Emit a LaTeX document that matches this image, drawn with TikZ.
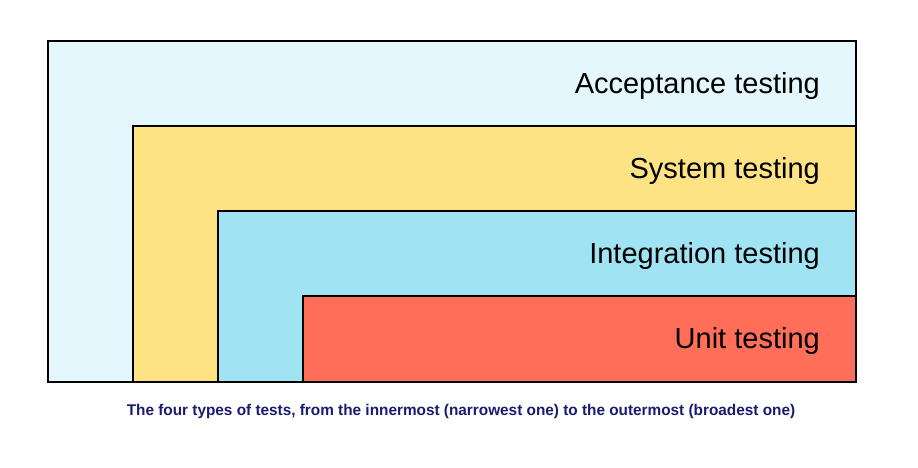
\documentclass[tikz,border=0pt]{standalone}
\usepackage{fontspec}
\setmainfont{Liberation Sans}
\definecolor{acceptfill}{HTML}{E3F7FC}
\definecolor{systemfill}{HTML}{FDE384}
\definecolor{integfill}{HTML}{A0E4F4}
\definecolor{unitfill}{HTML}{FF6E59}
\definecolor{captionblue}{HTML}{1A1A70}
\begin{document}
\begin{tikzpicture}[x=1pt,y=-1pt,
  layer/.style={draw=black, line width=1.8pt},
  layerlabel/.style={anchor=east, font=\fontsize{29}{33}\selectfont, inner sep=0pt},
  captiontext/.style={font=\bfseries\fontsize{15.5}{18}\selectfont, text=captionblue, inner sep=0pt}]
  \useasboundingbox (0,0) rectangle (918,467);
  % nested test layers, outermost first
  \draw[layer, fill=acceptfill] (48,41) rectangle (856,382);
  \draw[layer, fill=systemfill] (133,126) rectangle (856,382);
  \draw[layer, fill=integfill] (218,211) rectangle (856,382);
  \draw[layer, fill=unitfill] (303,296) rectangle (856,382);
  \node[layerlabel] (accept) at (820,86) {Acceptance testing};
  \node[layerlabel] (system) at (820,171) {System testing};
  \node[layerlabel] (integ) at (820,256) {Integration testing};
  \node[layerlabel] (unit) at (820,341) {Unit testing};
  \node[captiontext] (caption) at (461,411) {\scalebox{0.99}[1]{The four types of tests, from the innermost (narrowest one) to the outermost (broadest one)}};
\end{tikzpicture}
\end{document}
